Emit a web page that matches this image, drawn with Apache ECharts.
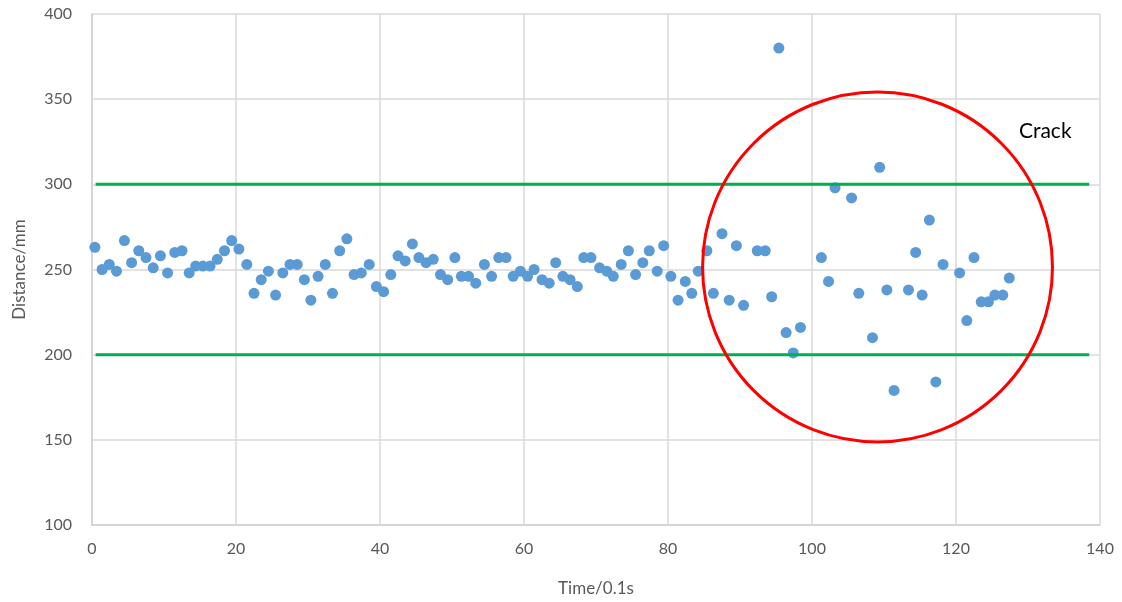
<!DOCTYPE html>
<html>
<head>
<meta charset="utf-8">
<script src="https://cdn.jsdelivr.net/npm/echarts@6/dist/echarts.min.js"></script>
<style>html,body{margin:0;padding:0;background:#fff}#c{width:1122px;height:602px}</style>
</head>
<body>
<div id="c"></div>
<script>
// Data (time positions)
const times = [0.4,1.4,2.4,3.4,4.5,5.5,6.5,7.5,8.5,9.5,10.5,11.5,12.5,13.5,14.4,15.4,16.4,17.4,18.4,19.4,
  20.4,21.5,22.5,23.5,24.5,25.5,26.5,27.5,28.5,29.5,30.4,31.4,32.4,33.4,34.4,35.4,36.4,37.4,38.5,39.5,
  40.5,41.5,42.5,43.5,44.5,45.4,46.4,47.4,48.4,49.4,50.4,51.3,52.3,53.3,54.5,55.5,56.5,57.5,58.5,59.5,
  60.5,61.4,62.5,63.5,64.4,65.4,66.4,67.4,68.3,69.3,70.5,71.5,72.4,73.5,74.5,75.5,76.5,77.4,78.5,79.4,
  80.4,81.4,82.4,83.3,84.2,85.4,86.3,87.5,88.5,89.5,90.5,92.4,93.5,94.4,95.4,96.4,97.4,98.4,101.3,102.3,
  103.2,105.5,106.5,108.4,109.4,110.4,111.4,113.4,114.4,115.3,116.3,117.2,118.2,120.5,121.5,122.5,123.5,124.5,125.4,126.5,127.4];
const distances = [263,250,253,249,267,254,261,257,251,258,248,260,261,248,252,252,252,256,261,267,
  262,253,236,244,249,235,248,253,253,244,232,246,253,236,261,268,247,248,253,240,
  237,247,258,255,265,257,254,256,247,244,257,246,246,242,253,246,257,257,246,249,
  246,250,244,242,254,246,244,240,257,257,251,249,246,253,261,247,254,261,249,264,
  246,232,243,236,249,261,236,271,232,264,229,261,261,234,380,213,201,216,257,243,
  298,292,236,210,310,238,179,238,260,235,279,184,253,248,220,257,231,231,235,235,245];
const limitTimes = [0.5, 138.5];
const upperLimit = [300, 300];
const lowerLimit = [200, 200];
const crackCircle = {time: 109.1, distance: 251.5, radiusTime: 24.3};
const crackLabel = {time: 132.4, distance: 331, text: 'Crack'};
const xTicks = {min: 0, max: 140, interval: 20};
const yTicks = {min: 100, max: 400, interval: 50};

const font = 'Lato, "Open Sans", sans-serif';
const chart = echarts.init(document.getElementById('c'), null, {renderer: 'canvas'});
const pts = times.map((t, i) => [t, distances[i]]);

chart.setOption({
  animation: false,
  backgroundColor: '#fff',
  grid: {left: 92, right: 22, top: 14, bottom: 77},
  xAxis: {
    type: 'value', min: xTicks.min, max: xTicks.max, interval: xTicks.interval,
    name: 'Time/0.1s', nameLocation: 'middle', nameGap: 55,
    nameTextStyle: {color: '#595959', fontSize: 17, fontFamily: font},
    axisLine: {show: true, lineStyle: {color: '#d0d0d0', width: 1.5}},
    axisTick: {show: false},
    axisLabel: {color: '#595959', fontSize: 16, fontFamily: font, margin: 16},
    splitLine: {show: true, lineStyle: {color: '#d9d9d9', width: 1.5}}
  },
  yAxis: {
    type: 'value', min: yTicks.min, max: yTicks.max, interval: yTicks.interval,
    name: 'Distance/mm', nameLocation: 'middle', nameGap: 64,
    nameTextStyle: {color: '#595959', fontSize: 17, fontFamily: font},
    axisLine: {show: true, lineStyle: {color: '#d0d0d0', width: 1.5}},
    axisTick: {show: false},
    axisLabel: {color: '#595959', fontSize: 16, fontFamily: font, margin: 20},
    splitLine: {show: true, lineStyle: {color: '#d9d9d9', width: 1.5}}
  },
  series: [
    {
      type: 'line', data: limitTimes.map((t, i) => [t, upperLimit[i]]),
      symbol: 'none', lineStyle: {color: '#00B050', width: 3}, z: 3, silent: true
    },
    {
      type: 'line', data: limitTimes.map((t, i) => [t, lowerLimit[i]]),
      symbol: 'none', lineStyle: {color: '#00B050', width: 3}, z: 3, silent: true
    },
    {
      type: 'scatter', data: pts, symbol: 'circle', symbolSize: 11,
      itemStyle: {color: '#5B9BD5', opacity: 1}, z: 2
    },
    {
      type: 'custom', z: 4, silent: true,
      data: [[crackCircle.time, crackCircle.distance, crackCircle.radiusTime]],
      renderItem: function (params, api) {
        const c = api.coord([api.value(0), api.value(1)]);
        const r = api.size([api.value(2), 0])[0];
        return {
          type: 'circle',
          shape: {cx: c[0], cy: c[1], r: r},
          style: {fill: null, stroke: '#FF0000', lineWidth: 3}
        };
      }
    },
    {
      type: 'custom', z: 5, silent: true,
      data: [[crackLabel.time, crackLabel.distance]],
      renderItem: function (params, api) {
        const c = api.coord([api.value(0), api.value(1)]);
        return {
          type: 'text',
          style: {x: c[0], y: c[1], text: crackLabel.text, fill: '#000',
            font: '21px ' + font, align: 'center', verticalAlign: 'middle'}
        };
      }
    }
  ]
});
</script>
</body>
</html>
